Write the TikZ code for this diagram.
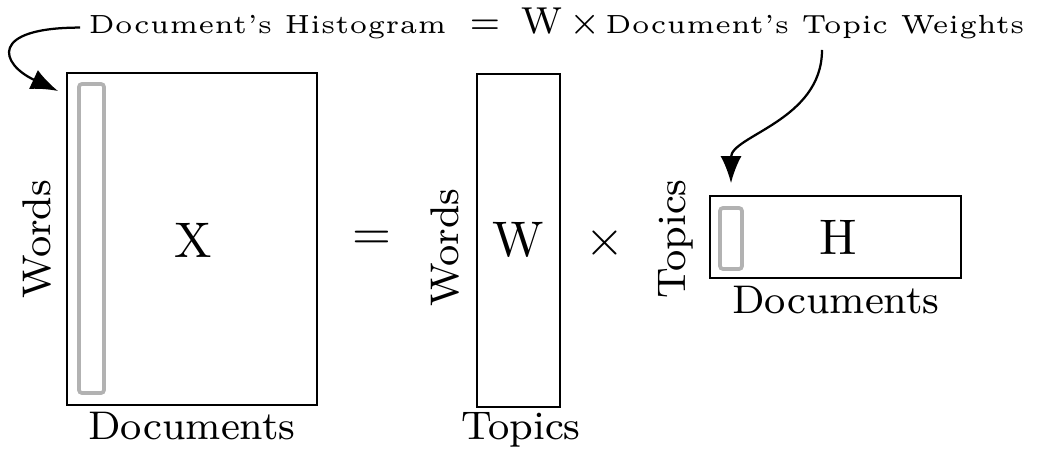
\documentclass[tikz,border=0pt]{standalone}
\usepackage{amsmath}
\usepackage{tikz}
\usepackage{xcolor}
\usetikzlibrary{arrows.meta}

\begin{document}
\begin{tikzpicture}%
  [x=0.2pt,y=-0.2pt,>={Latex[length=5.4pt,width=4.2pt]}]
  \tikzstyle{mat node}=[rectangle,draw,line width=0.5pt,inner sep=0]
  \tikzstyle{col node}=[rectangle,draw=black!30,line width=0.75pt,rounded corners=0.6pt,inner sep=0]
  \tikzstyle{dim node}=[inner sep=0,font=\fontsize{8}{9.6}\selectfont]
  \tikzstyle{big node}=[inner sep=0,font=\fontsize{10}{12}\selectfont]
  \tikzstyle{top node}=[inner sep=1.5pt,font=\fontsize{5.25}{6}\selectfont]
  \tikzstyle{top big}=[inner sep=0,font=\fontsize{7.5}{9}\selectfont]
  \useasboundingbox (0,0) rectangle (1040,449);
  \node(X)[mat node,minimum width=50pt,minimum height=66.4pt] at (192,239){};
  \node(xcol)[col node,minimum width=5pt,minimum height=61.8pt] at (91.5,238.5){};
  \node(xname)[big node] at (193,240){X};
  \node(xrows)[dim node,rotate=90] at (37,239){Words};
  \node(xcols)[dim node,anchor=base] at (192,440){Documents};
  \node(eq)[big node] at (372,240){$=$};
  \node(W)[mat node,minimum width=16.6pt,minimum height=66.6pt] at (518.5,240.5){};
  \node(wname)[big node] at (518,240){W};
  \node(wrows)[dim node,rotate=90] at (445,247.5){Words};
  \node(wcols)[dim node,anchor=base] at (521,440){Topics};
  \node(times)[big node] at (605,243){$\times$};
  \node(H)[mat node,minimum width=50.2pt,minimum height=16.4pt] at (835.5,237){};
  \node(hcol)[col node,minimum width=4.4pt,minimum height=12.2pt] at (731,238.5){};
  \node(hname)[big node] at (838,237){H};
  \node(hrows)[dim node,rotate=90] at (676,239){Topics};
  \node(hcols)[dim node,anchor=base] at (836,314){Documents};
  \node(hist)[top node,anchor=base] at (267.5,34){Document's Histogram};
  \node(topeq)[top big,anchor=base] at (485,34){$=$};
  \node(topw)[top big,anchor=base] at (542,34){W};
  \node(toptimes)[top big,anchor=base] at (585,34){$\times$};
  \node(weights)[top node,anchor=base] at (815,34){Document's Topic Weights};
  \coordinate(histtip) at (58,91);
  \coordinate(weightsfoot) at (822,50);
  \draw[->,line width=0.45pt] (hist.west) .. controls +(-92,0) and +(-58,-27) .. (histtip);
  \draw[->,line width=0.45pt,shorten >=4.6pt] (weightsfoot) to[out=-90,in=90] (hcol.north);
\end{tikzpicture}
\end{document}
